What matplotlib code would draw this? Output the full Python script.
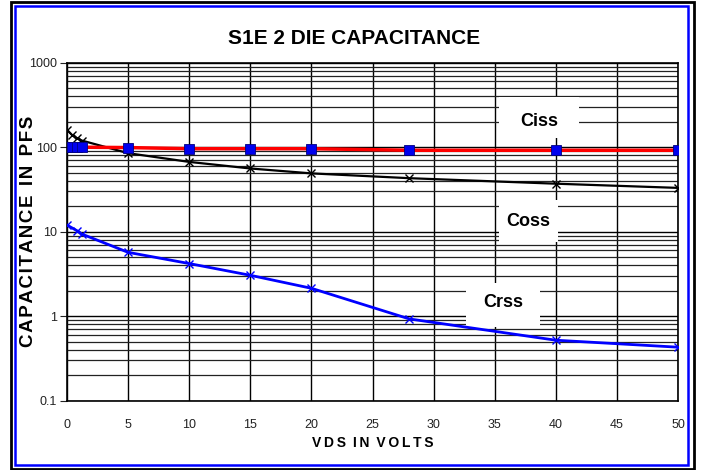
import matplotlib
matplotlib.use("Agg")
import matplotlib.pyplot as plt
from matplotlib.ticker import LogLocator, FixedLocator, NullFormatter
from matplotlib.patches import Rectangle

plt.rcParams['font.family'] = ['Liberation Sans', 'DejaVu Sans']

vds = [0, 0.4, 0.8, 1.2, 5, 10, 15, 20, 28, 40, 50]
ciss = [100, 100, 100, 100, 99, 96, 96, 96, 92, 92, 92]
coss = [161, 140, 128, 120, 85, 67, 56, 49, 43, 37, 33]
vds_crss = [0, 0.8, 1.2, 5, 10, 15, 20, 28, 40, 50]
crss = [12, 10.3, 9.4, 5.7, 4.2, 3.05, 2.14, 0.93, 0.52, 0.43]

x_ticks = [0, 5, 10, 15, 20, 25, 30, 35, 40, 45, 50]
y_ticks = [0.1, 1, 10, 100, 1000]
y_tick_labels = ['0.1', '1', '10', '100', '1000']


def spaced(s, gap='\u200a'):
    words = s.split(' ')
    return '\u2002'.join(gap.join(w) for w in words)


fig = plt.figure(figsize=(7.01, 4.70), dpi=100)
ax = fig.add_axes([0.0956, 0.1474, 0.8716, 0.7192])

ax.set_yscale('log')
ax.set_xlim(0, 50)
ax.set_ylim(0.1, 1000)

ax.plot(vds, ciss, color='red', lw=2.5, marker='s', ms=6.5, mfc='#0000ee',
        mec='#000080', mew=0.6, zorder=5)
ax.plot(vds, coss, color='black', lw=1.6, marker='x', ms=6, mew=1.0, zorder=4)
ax.plot(vds_crss, crss, color='#0000ff', lw=2.0, marker='x', ms=6, mew=1.0,
        mec='#0000ff', zorder=4)

ax.set_xticks(x_ticks)
ax.set_xticklabels([str(t) for t in x_ticks])
ax.yaxis.set_major_locator(FixedLocator(y_ticks))
ax.set_yticklabels(y_tick_labels)
ax.yaxis.set_minor_locator(LogLocator(base=10, subs=range(2, 10)))
ax.yaxis.set_minor_formatter(NullFormatter())

ax.grid(True, which='major', axis='both', color='black', lw=1.0)
ax.grid(True, which='minor', axis='y', color='#222222', lw=0.9)
ax.set_axisbelow(True)

ax.tick_params(axis='x', length=0, pad=13, labelsize=9, colors='#222222')
ax.tick_params(axis='y', which='major', length=5, direction='out', pad=2,
               labelsize=9, colors='#222222')
ax.tick_params(axis='y', which='minor', length=0)
for s in ax.spines.values():
    s.set_color('black')
    s.set_linewidth(1.2)

ax.set_xlabel(spaced('VDS IN VOLTS', '\u2009'), fontsize=10, fontweight='bold')
ax.xaxis.set_label_coords(0.5, -0.105)
ax.set_ylabel(spaced('CAPACITANCE IN PFS', '\u200a'), fontsize=13.5, fontweight='bold')
ax.yaxis.set_label_coords(-0.049, 0.5)

fig.text(0.505, 0.918, 'S1E 2 DIE CAPACITANCE', ha='center', va='center',
         fontsize=15, fontweight='bold')

# white label boxes (axes-fraction layout)
for (x0, x1, y0, y1) in [(0.707, 0.838, 0.777, 0.898),
                         (0.707, 0.804, 0.4695, 0.594),
                         (0.653, 0.774, 0.218, 0.348)]:
    ax.add_patch(Rectangle((x0, y0), x1 - x0, y1 - y0, transform=ax.transAxes,
                           facecolor='white', edgecolor='none', zorder=3))

ax.text(0.773, 0.8275, 'Ciss', transform=ax.transAxes, ha='center', va='center',
        fontsize=13, fontweight='bold', zorder=6)
ax.text(0.7545, 0.529, 'Coss', transform=ax.transAxes, ha='center', va='center',
        fontsize=13, fontweight='bold', zorder=6)
ax.text(0.7136, 0.2905, 'Crss', transform=ax.transAxes, ha='center', va='center',
        fontsize=13, fontweight='bold', zorder=6)

# frames
fig.patches.append(Rectangle((11/701, 1/470), 683/701, 467/470, transform=fig.transFigure,
                             fill=False, edgecolor='black', lw=2.0))
fig.patches.append(Rectangle((15/701, 5/470), 673/701, 459/470, transform=fig.transFigure,
                             fill=False, edgecolor='#0000ff', lw=1.8))

fig.savefig('out.png', dpi=100)
